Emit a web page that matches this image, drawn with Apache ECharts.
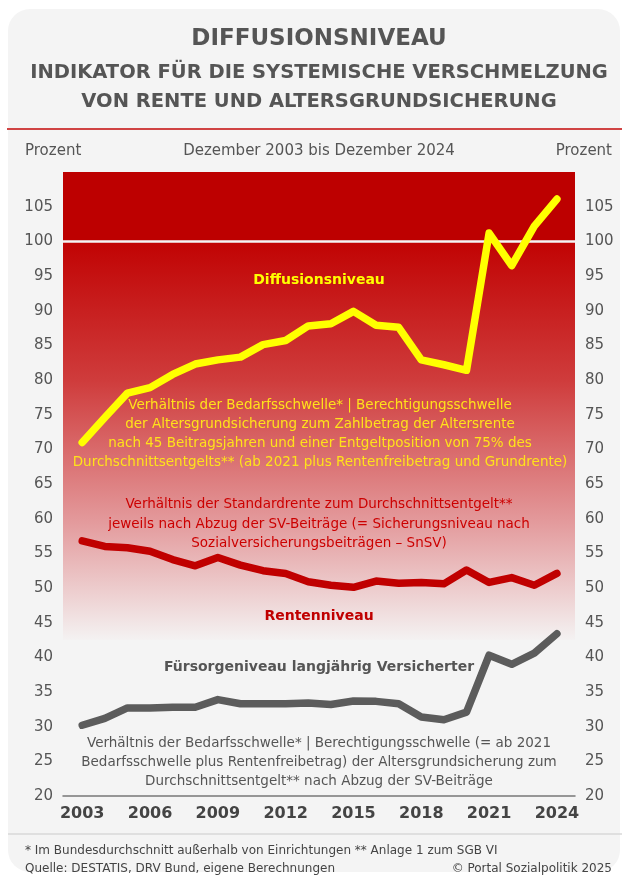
<!DOCTYPE html>
<html>
<head>
<meta charset="utf-8">
<script src="https://cdn.jsdelivr.net/npm/echarts@6/dist/echarts.min.js"></script>
<style>
  html, body { margin: 0; padding: 0; background: #ffffff; }
  #card { position: absolute; left: 8px; top: 9px; width: 612px; height: 863px; background: #f4f4f4; border-radius: 22px; }
  #chart { position: absolute; left: 0; top: 0; width: 622px; height: 877px; }
</style>
</head>
<body>
<div id="card"></div>
<div id="chart"></div>
<script>
// ---- Data ----
const years = [2003, 2004, 2005, 2006, 2007, 2008, 2009, 2010, 2011, 2012, 2013,
               2014, 2015, 2016, 2017, 2018, 2019, 2020, 2021, 2022, 2023, 2024];
const diffusionsniveau = [71.0, 74.6, 78.1, 78.9, 80.8, 82.3, 82.9, 83.3, 85.1, 85.7, 87.8,
                          88.1, 89.9, 87.9, 87.6, 82.9, 82.2, 81.4, 101.2, 96.5, 102.2, 106.1];
const rentenniveau = [56.8, 56.0, 55.8, 55.3, 54.1, 53.2, 54.4, 53.3, 52.5, 52.1, 50.9,
                      50.4, 50.1, 51.0, 50.7, 50.8, 50.6, 52.6, 50.8, 51.5, 50.4, 52.1];
const fuersorgeniveau = [30.2, 31.2, 32.7, 32.7, 32.8, 32.8, 33.9, 33.3, 33.3, 33.3, 33.4,
                         33.2, 33.7, 33.65, 33.3, 31.4, 31.0, 32.1, 40.3, 39.0, 40.6, 43.4];
const xTickYears = [2003, 2006, 2009, 2012, 2015, 2018, 2021, 2024];
const yTickValues = [20, 25, 30, 35, 40, 45, 50, 55, 60, 65, 70, 75, 80, 85, 90, 95, 100, 105];
const thresholdLine = 100;
const redZoneBottom = 42.5;
const yMax = 110;
const xMin = 2002.15;
const xMax = 2024.8;

const title = 'DIFFUSIONSNIVEAU';
const subtitle1 = 'INDIKATOR FÜR DIE SYSTEMISCHE VERSCHMELZUNG';
const subtitle2 = 'VON RENTE UND ALTERSGRUNDSICHERUNG';
const unitLabel = 'Prozent';
const periodLabel = 'Dezember 2003 bis Dezember 2024';
const noteDiffusion = 'Verhältnis der Bedarfsschwelle* | Berechtigungsschwelle\nder Altersgrundsicherung zum Zahlbetrag der Altersrente\nnach 45 Beitragsjahren und einer Entgeltposition von 75% des\nDurchschnittsentgelts** (ab 2021 plus Rentenfreibetrag und Grundrente)';
const noteRente = 'Verhältnis der Standardrente zum Durchschnittsentgelt**\njeweils nach Abzug der SV-Beiträge (= Sicherungsniveau nach\nSozialversicherungsbeiträgen – SnSV)';
const noteFuersorge = 'Verhältnis der Bedarfsschwelle* | Berechtigungsschwelle (= ab 2021\nBedarfsschwelle plus Rentenfreibetrag) der Altersgrundsicherung zum\nDurchschnittsentgelt** nach Abzug der SV-Beiträge';
const footnote = '* Im Bundesdurchschnitt außerhalb von Einrichtungen ** Anlage 1 zum SGB VI';
const source = 'Quelle: DESTATIS, DRV Bund, eigene Berechnungen';
const copyright = '© Portal Sozialpolitik 2025';

const pair = arr => years.map((y, i) => [y, arr[i]]);
const FONT = 'DejaVu Sans';

const chart = echarts.init(document.getElementById('chart'), null, { renderer: 'canvas' });

const yAxisCommon = {
  type: 'value', min: 20, max: yMax, interval: 5,
  axisLine: { show: false }, axisTick: { show: false }, splitLine: { show: false },
  axisLabel: {
    color: '#555', fontFamily: FONT, fontSize: 15, margin: 10,
    customValues: yTickValues
  }
};

const txt = (x, y, text, opts) => ({
  type: 'text', x: x, y: y, silent: true, z: 100,
  style: Object.assign({ text: text, fontFamily: FONT, align: 'center', verticalAlign: 'middle' }, opts)
});

chart.setOption({
  backgroundColor: 'transparent',
  animation: false,
  grid: { left: 63, right: 47, top: 172, bottom: 81, containLabel: false },
  xAxis: {
    type: 'value', min: xMin, max: xMax,
    axisLine: { show: true, lineStyle: { color: '#777', width: 1.5 } },
    axisTick: { show: false },
    splitLine: { show: false },
    axisLabel: {
      customValues: xTickYears,
      formatter: v => String(Math.round(v)),
      color: '#444', fontFamily: FONT, fontWeight: 'bold', fontSize: 16, margin: 10
    }
  },
  yAxis: [
    Object.assign({}, yAxisCommon, { position: 'left' }),
    Object.assign({}, yAxisCommon, { position: 'right' })
  ],
  series: [
    {
      name: 'Fürsorgeniveau', type: 'line', data: pair(fuersorgeniveau),
      symbol: 'none', z: 3,
      lineStyle: { color: '#5c5c5c', width: 7.5, cap: 'round', join: 'round' },
      markArea: {
        silent: true, z: 1,
        data: [
          [ { xAxis: xMin, yAxis: thresholdLine, itemStyle: { color: '#bd0000' } }, { xAxis: xMax, yAxis: yMax } ],
          [ { xAxis: xMin, yAxis: redZoneBottom,
              itemStyle: { color: { type: 'linear', x: 0, y: 0, x2: 0, y2: 1, colorStops: [
                { offset: 0, color: '#c10303' },
                { offset: 0.35, color: '#cf3c3c' },
                { offset: 0.7, color: '#e3999b' },
                { offset: 1, color: '#f4f2f2' }
              ] } } },
            { xAxis: xMax, yAxis: thresholdLine } ]
        ]
      },
      markLine: {
        silent: true, symbol: 'none', label: { show: false },
        lineStyle: { color: '#f4f4f4', width: 2.5, type: 'solid' },
        data: [ [ { coord: [xMin, thresholdLine] }, { coord: [xMax, thresholdLine] } ] ]
      }
    },
    {
      name: 'Rentenniveau', type: 'line', data: pair(rentenniveau),
      symbol: 'none', z: 4,
      lineStyle: { color: '#c00000', width: 7.5, cap: 'round', join: 'round' }
    },
    {
      name: 'Diffusionsniveau', type: 'line', data: pair(diffusionsniveau),
      symbol: 'none', z: 5,
      lineStyle: { color: '#ffff00', width: 7.5, cap: 'round', join: 'round' }
    }
  ],
  graphic: [
    txt(319, 39, title, { fontSize: 23, fontWeight: 'bold', fill: '#555' }),
    txt(319, 73, subtitle1, { fontSize: 19.5, fontWeight: 'bold', fill: '#555' }),
    txt(319, 102, subtitle2, { fontSize: 19.5, fontWeight: 'bold', fill: '#555' }),
    { type: 'line', silent: true, z: 100, shape: { x1: 7, y1: 129, x2: 622, y2: 129 }, style: { stroke: '#d04444', lineWidth: 2 } },
    txt(25, 151, unitLabel, { fontSize: 15, fill: '#555', align: 'left' }),
    txt(319, 151, periodLabel, { fontSize: 15, fill: '#555' }),
    txt(612, 151, unitLabel, { fontSize: 15, fill: '#555', align: 'right' }),
    txt(319, 280, 'Diffusionsniveau', { fontSize: 14, fontWeight: 'bold', fill: '#ffff00' }),
    txt(320, 434, noteDiffusion, { fontSize: 13.5, lineHeight: 18.7, fill: '#ffe21a' }),
    txt(319, 524, noteRente, { fontSize: 13.5, lineHeight: 19.5, fill: '#cc0000' }),
    txt(319, 616, 'Rentenniveau', { fontSize: 14, fontWeight: 'bold', fill: '#c00000' }),
    txt(319, 667, 'Fürsorgeniveau langjährig Versicherter', { fontSize: 14, fontWeight: 'bold', fill: '#555' }),
    txt(319, 762, noteFuersorge, { fontSize: 13.5, lineHeight: 19, fill: '#555' }),
    { type: 'line', silent: true, z: 100, shape: { x1: 8, y1: 834, x2: 622, y2: 834 }, style: { stroke: '#d9d9d9', lineWidth: 1.5 } },
    txt(25, 851, footnote, { fontSize: 12, fill: '#444', align: 'left' }),
    txt(25, 869, source, { fontSize: 12, fill: '#444', align: 'left' }),
    txt(612, 869, copyright, { fontSize: 12, fill: '#444', align: 'right' })
  ]
});
</script>
</body>
</html>
